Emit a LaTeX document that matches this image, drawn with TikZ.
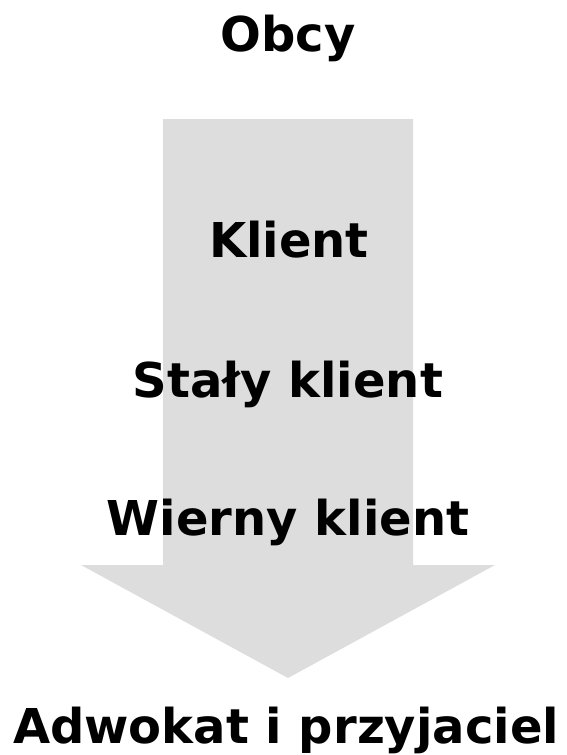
\documentclass[tikz,border=0pt]{standalone}
\usepackage{fontspec}
\setmainfont{DejaVu Sans}
\begin{document}
\begin{tikzpicture}[x=1pt,y=-1pt,
  lbl/.style={anchor=base,inner sep=0pt,font=\fontsize{48}{56}\selectfont\bfseries,text=black},
  bigarrow/.style={fill=arrowgray,draw=none}]
\definecolor{arrowgray}{HTML}{DDDDDD}
\useasboundingbox (0,0) rectangle (566,755);
\fill[white] (0,0) rectangle (566,755);
\coordinate (tip) at (288,678);
\path[bigarrow] (163,119) -- (413,119) -- (413,565) -- (495,565) -- (tip) -- (81,565) -- (163,565) -- cycle;
\node[lbl] (obcy) at (288,51) {Obcy};
\node[lbl] (klient) at (289,257) {Klient};
\node[lbl] (staly) at (288,397) {Stały klient};
\node[lbl] (wierny) at (288,535) {Wierny klient};
\node[lbl] (adwokat) at (286,743) {Adwokat i przyjaciel};
\end{tikzpicture}
\end{document}
